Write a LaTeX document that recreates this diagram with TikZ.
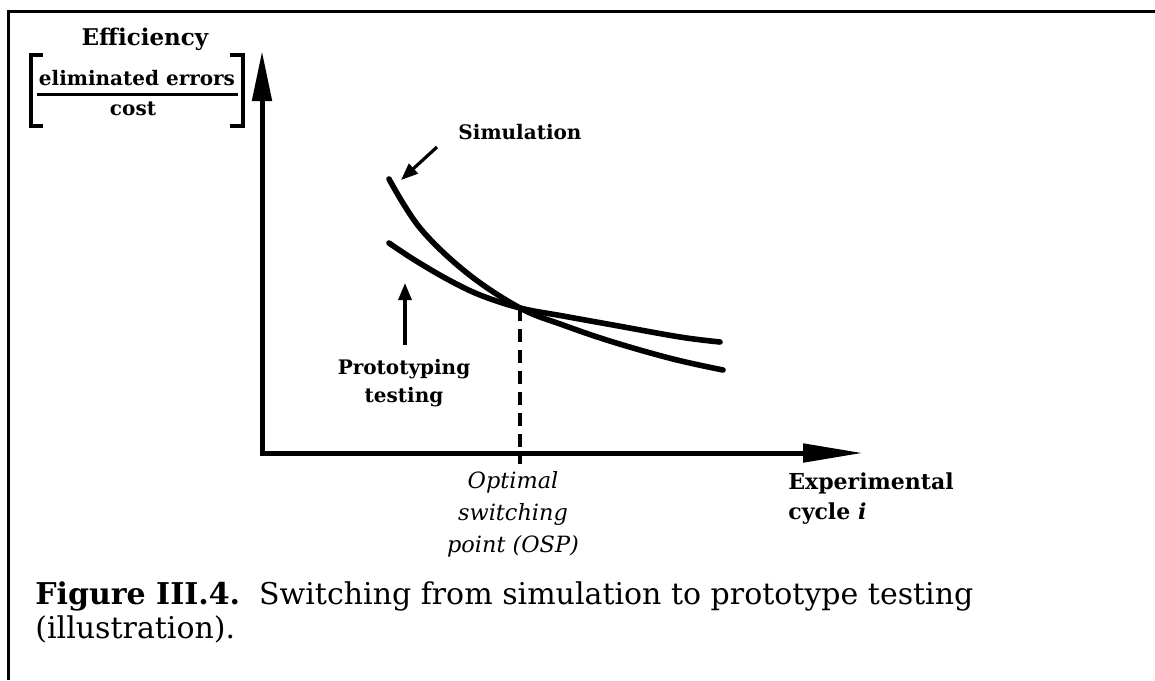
\documentclass[tikz,border=0pt]{standalone}
\usepackage{fontspec}
\setmainfont{DejaVu Serif}
\usetikzlibrary{arrows.meta}
\begin{document}
\begin{tikzpicture}[x=0.5pt,y=-0.5pt,
  yaxis/.style={line width=2.5pt,-{Triangle[length=25pt,width=9.5pt]}},
  xaxis/.style={line width=2.5pt,-{Triangle[length=30pt,width=9pt]}},
  curve/.style={line width=2.8pt,line cap=round},
  pointer/.style={line width=1.6pt,-{Triangle[length=8.5pt,width=6.5pt]}},
  lbl/.style={font=\bfseries\fontsize{10}{14}\selectfont,inner sep=0pt},
  ilbl/.style={font=\itshape\fontsize{11.2}{16}\selectfont,inner sep=0pt,align=center},
  captext/.style={font=\fontsize{15}{17}\selectfont,inner sep=0pt,align=left}]
\useasboundingbox (0,0) rectangle (1155,680);
% frame (top and left edges only)
\draw[line width=1.5pt] (8,680) -- (8,11) -- (1155,11);

% axes
\coordinate (O) at (262,453);
\coordinate (ytop) at (262,51);
\coordinate (xend) at (863,453);
\draw[yaxis] ([yshift=-1.25pt]O) -- (ytop);
\draw[xaxis] ([xshift=-1.25pt]O) -- (xend);

% curves
\coordinate (osp) at (520,308);
\coordinate (ospfoot) at (520,464);
\draw[curve] plot[smooth,tension=0.6] coordinates
  {(389,179) (420,228) (467,273) (520,308) (563,325) (613,342) (673,359) (723,370)};
\draw[curve] plot[smooth,tension=0.6] coordinates
  {(389,243) (413,259) (447,279) (480,295) (520,308) (563,316) (613,325) (680,337) (720,342)};
\draw[line width=1.6pt,dash pattern=on 6.5pt off 4pt] (osp) -- (ospfoot);

% y-axis label with bracketed ratio
\node[lbl,font=\bfseries\fontsize{11.5}{14}\selectfont,anchor=base] (eff) at (145,45) {Efficiency};
\node[lbl,anchor=base] (num) at (137,85) {eliminated errors};
\node[lbl,anchor=base] (den) at (133,115) {cost};
\draw[line width=1.5pt] (37,94) -- (238,94);
\draw[line width=2pt] (43,55) -- (31,55) -- (31,126) -- (43,126);
\draw[line width=2pt] (230,55) -- (243,55) -- (243,126) -- (230,126);

% curve labels
\node[lbl,anchor=base] (sim) at (520,139) {Simulation};
\coordinate (simtip) at (401,180);
\coordinate (simstart) at (437,147);
\draw[pointer] (simstart) -- (simtip);
\node[lbl,anchor=north,align=center] (proto) at (404,359) {Prototyping\\testing};
\coordinate (prototip) at (405,283);
\coordinate (protostart) at (405,345);
\draw[pointer] (protostart) -- (prototip);

% x-axis labels
\node[ilbl,anchor=north] (ospl) at (513,471) {Optimal\\switching\\point (OSP)};
\node[lbl,anchor=north west,align=left,font=\bfseries\fontsize{11}{15}\selectfont] (xl) at (788,472) {Experimental\\cycle \textit{i}};

% caption
\node[captext,anchor=base west] (caption) at (35,638) {\textbf{Figure III.4.}\ \ Switching from simulation to prototype testing\\(illustration).};
\end{tikzpicture}
\end{document}
